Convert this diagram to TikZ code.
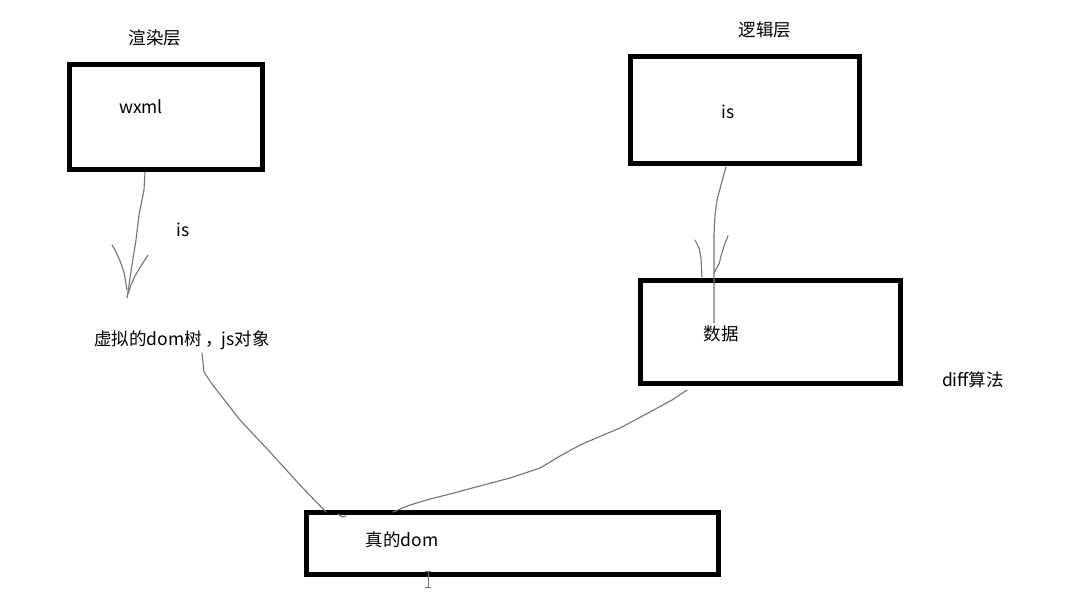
\documentclass[tikz,border=0pt]{standalone}
\usepackage{fontspec}
\setmainfont{Noto Sans CJK SC}
\begin{document}
\begin{tikzpicture}[x=1pt,y=-1pt,
  layerbox/.style={draw=black,line width=5pt,fill=none,inner sep=0pt},
  lbl/.style={font=\fontsize{17.5}{20}\selectfont,text=black,inner sep=0pt,anchor=center},
  stroke/.style={draw=black!55,line width=1.1pt,line cap=round,line join=round}]
\useasboundingbox[fill=white] (0,0) rectangle (1090,600);
% boxes
\node[layerbox,minimum width=193pt,minimum height=105pt] (render) at (166,117) {};
\node[layerbox,minimum width=229pt,minimum height=107pt] (logic) at (744.5,109.5) {};
\node[layerbox,minimum width=260pt,minimum height=103pt] (data) at (770,331.5) {};
\node[layerbox,minimum width=412pt,minimum height=62pt] (real) at (512,543) {};
% labels
\node[lbl] (tRender) at (155,38) {渲染层};
\node[lbl] (tWxml) at (141,107) {wxml};
\node[lbl] (tJs1) at (183,230) {is};
\node[lbl] (tVdom) at (182,340) {虚拟的dom树\kern0.22em，\kern-0.1em js对象};
\node[lbl] (tLogic) at (765,30) {逻辑层};
\node[lbl] (tJs2) at (728,112) {is};
\node[lbl] (tData) at (721,334) {数据};
\node[lbl] (tDiff) at (973,380) {diff算法};
\node[lbl] (tReal) at (402,540) {真的dom};
% connector anchors
\coordinate (a1s) at (145,172);
\coordinate (a1t) at (127,298);
\coordinate (a2s) at (726,167);
\coordinate (a2e) at (714,323);
\coordinate (c3s) at (202,353);
\coordinate (c3e) at (326,512);
\coordinate (c4s) at (687,390);
\coordinate (c4e) at (393,512);
% arrow wxml -> virtual dom
\draw[stroke] (a1s) -- (144,190) -- (142,200) -- (139,215) -- (136,240) -- (132,265) -- (129,285) -- (a1t);
\draw[stroke] (112,245) -- (116,252) -- (120,261) -- (124,272) -- (127,290);
\draw[stroke] (148,255) -- (141,266) -- (135,276) -- (131,285) -- (128,294);
% arrow js -> data
\draw[stroke] (a2s) -- (721,185) -- (717,200) -- (715,215) -- (714,235) -- (714,260) -- (a2e);
\draw[stroke] (695,240) -- (699,248) -- (701,258) -- (702,277);
\draw[stroke] (728,236) -- (724,246) -- (721,256) -- (719,264) -- (714,273);
% virtual dom -> real dom
\draw[stroke] (c3s) -- (204,372) -- (212,384) -- (240,420) -- (270,452) -- (300,485) -- (c3e);
\draw[stroke] (338,514) -- (342,517) -- (346,516);
% data -> real dom
\draw[stroke] (c4s) -- (672,400) -- (650,412) -- (620,428) -- (580,445) -- (560,456) -- (540,468) -- (510,478) -- (476,487) -- (450,494) -- (430,499) -- (410,505) -- (c4e);
% text cursor
\draw[draw=black!55,line width=1pt] (428,571) -- (428,587) (425,571) -- (431,571) (425,587) -- (431,587);
\end{tikzpicture}
\end{document}
